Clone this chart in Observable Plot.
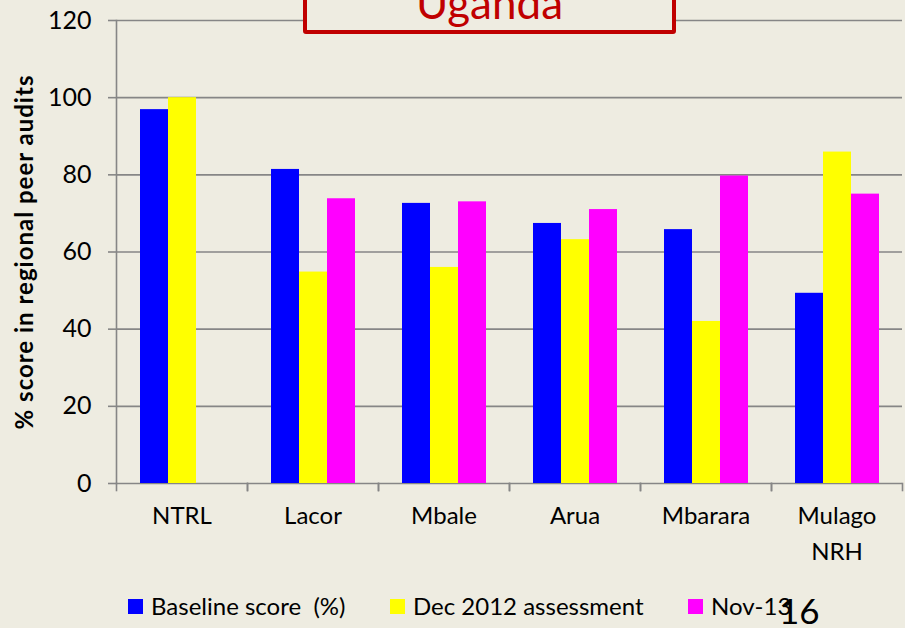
<!DOCTYPE html>
<html><head><meta charset="utf-8">
<script src="https://cdn.jsdelivr.net/npm/d3@7"></script>
<script src="https://cdn.jsdelivr.net/npm/@observablehq/plot@0.6"></script>
<style>
html,body{margin:0;padding:0;background:#EEECE1;}
#wrap{position:relative;width:905px;height:628px;overflow:hidden;font-family:Lato,sans-serif;color:#000;}
#chart svg{display:block;}
[aria-label="y-axis label"] text{font-size:24px;font-weight:bold;letter-spacing:1px;}
g[aria-label="y-axis tick label"]{font-size:25px;font-variant-numeric:tabular-nums;}
.title{position:absolute;left:303px;top:-40px;width:373px;height:74px;box-sizing:border-box;border:4px solid #C00000;border-radius:3px;background:#EEECE1;}
.title span{position:absolute;left:0;right:0;top:12px;text-align:center;color:#C00000;font-size:44px;line-height:normal;white-space:nowrap;}
.legend{position:absolute;left:0;top:588px;width:905px;height:40px;}
.sw{position:absolute;top:11px;width:15px;height:15px;}
.lab{position:absolute;top:3px;font-size:24px;line-height:normal;white-space:pre;}
.page{position:absolute;left:779px;top:5px;font-size:35px;line-height:1;}
</style>
</head><body>
<div id="wrap">
  <div id="chart"></div>
  <div class="title"><span>Uganda</span></div>
  <div class="legend" id="legend"></div>
</div>
<script>
const categories = ["NTRL", "Lacor", "Mbale", "Arua", "Mbarara", "Mulago\nNRH"];
const seriesNames = ["Baseline score  (%)", "Dec 2012 assessment", "Nov-13"];
const baseline = [96.9, 81.4, 72.6, 67.4, 65.8, 49.3];
const dec2012 = [100, 54.8, 56.0, 63.2, 42.0, 85.9];
const nov13 = [null, 73.8, 73.0, 71.0, 79.7, 75.0];
const colors = ["#0000FF", "#FFFF00", "#FF00FF"];
const yTicks = [0, 20, 40, 60, 80, 100, 120];
const yLabel = "% score in regional peer audits";
const pageNumber = "16";

const seriesValues = [baseline, dec2012, nov13];
const rows = [];
categories.forEach((c, i) => {
  seriesNames.forEach((s, j) => {
    const v = seriesValues[j][i];
    if (v != null) rows.push({cat: c, series: s, value: v});
  });
});

const gridColor = "#868686";

const chart = Plot.plot({
  width: 905,
  height: 588,
  marginTop: 20,
  marginBottom: 105,
  marginLeft: 114,
  marginRight: 2,
  style: {background: "#EEECE1", fontFamily: "Lato, sans-serif", fontSize: "23px", color: "#000"},
  fx: {domain: categories, padding: 0},
  x: {domain: seriesNames, paddingInner: 0, paddingOuter: 0.77, axis: null},
  y: {domain: [0, 120]},
  color: {domain: seriesNames, range: colors},
  marks: [
    Plot.ruleY(yTicks, {stroke: gridColor, strokeWidth: 1.6}),
    Plot.barY(rows, {fx: "cat", x: "series", y: "value", fill: "series"}),
    Plot.frame({anchor: "left", stroke: gridColor, strokeWidth: 1.6, fx: () => categories[0]}),
    Plot.frame({anchor: "left", stroke: gridColor, strokeWidth: 1.6, insetTop: 463, insetBottom: -7}),
    Plot.frame({anchor: "right", stroke: gridColor, strokeWidth: 1.6, insetTop: 463, insetBottom: -7}),
    Plot.axisY({ticks: yTicks, tickSize: 8, tickPadding: 17, stroke: gridColor, strokeWidth: 1.6, fontSize: 25,
      label: yLabel, labelArrow: false, labelAnchor: "center", labelOffset: 101}),
    Plot.axisFx({anchor: "bottom", tickSize: 0, tickPadding: 15, fontSize: 24, lineHeight: 1.5, label: null})
  ]
});
document.getElementById("chart").appendChild(chart);

const legend = document.getElementById("legend");
const legendX = [128, 390, 688];
seriesNames.forEach((s, j) => {
  const sw = document.createElement("div");
  sw.className = "sw";
  sw.style.left = legendX[j] + "px";
  sw.style.background = colors[j];
  legend.appendChild(sw);
  const lab = document.createElement("div");
  lab.className = "lab";
  lab.style.left = (legendX[j] + 23) + "px";
  lab.textContent = s;
  legend.appendChild(lab);
});
const page = document.createElement("div");
page.className = "page";
page.textContent = pageNumber;
legend.appendChild(page);
</script>
</body></html>
